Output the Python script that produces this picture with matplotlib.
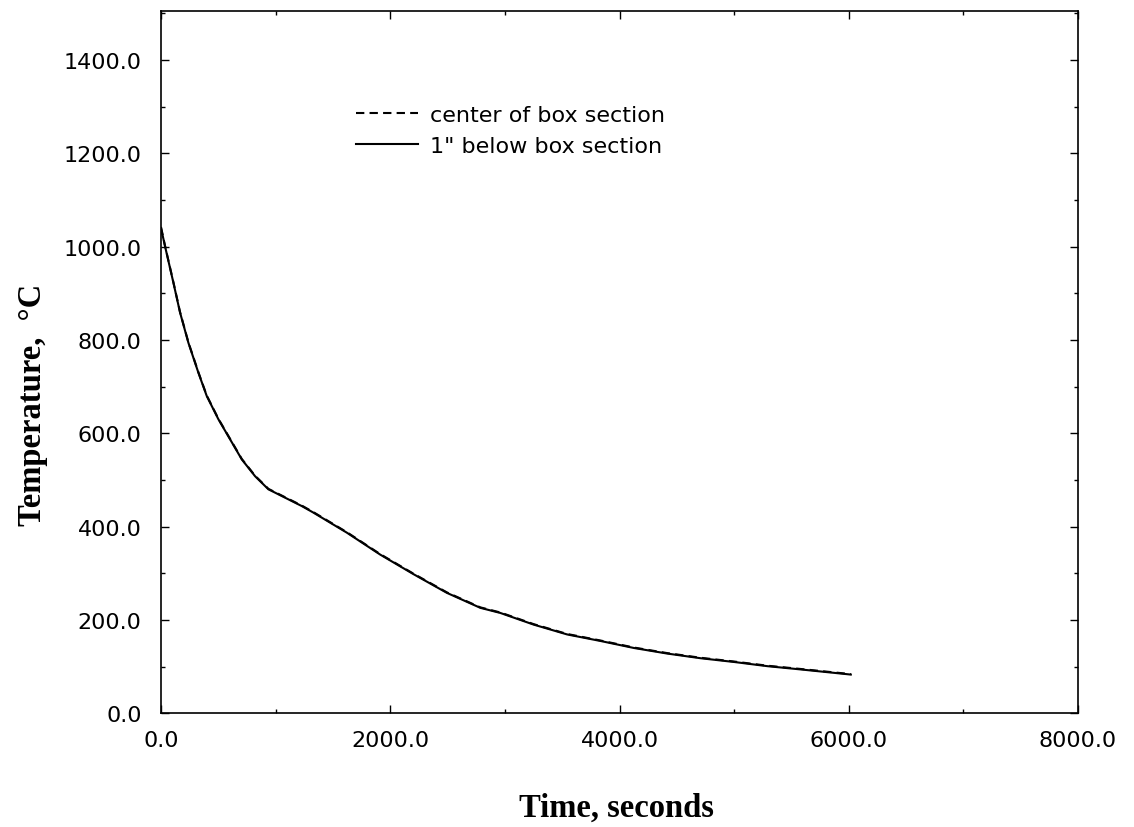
import matplotlib
matplotlib.use("Agg")
import matplotlib.pyplot as plt
from matplotlib.ticker import MultipleLocator, FormatStrFormatter

# Cooling history of the box section (time in s, temperature in deg C)
time_s = [0, 35, 108, 166, 239, 326, 399, 501, 603, 705, 821, 937, 1083,
          1229, 1330, 1622, 1913, 2204, 2495, 2786, 2961, 3252, 3543, 3834,
          4125, 4417, 4708, 4999, 5290, 5581, 6018]
center_box = [1042, 1002, 924, 860, 795, 731, 681, 631, 588, 545, 509, 481,
              463, 445, 431, 388, 341, 299, 259, 227, 216, 191, 170, 156,
              141, 129, 119, 111, 102, 95, 84]
below_box = [1040, 1001, 923, 859, 794, 730, 680, 630, 587, 544, 508, 480,
             462, 444, 430, 387, 340, 298, 258, 226, 215, 190, 169, 155,
             140, 128, 118, 110, 101, 94, 83]

series_labels = ["center of box section", "1\" below box section"]
x_label = "Time, seconds"
y_label = "Temperature,  \u00b0C"

plt.rcParams["font.family"] = ["DejaVu Sans"]

W, H = 1134, 828
fig = plt.figure(figsize=(W / 100, H / 100), dpi=100)
x0, x1, y0, y1 = 161, 1078, 714.3, 12
ax = fig.add_axes([x0 / W, 1 - y0 / H, (x1 - x0) / W, (y0 - y1) / H])

ax.plot(time_s, below_box, color="black", lw=1.5, ls="-", label=series_labels[1])
ax.plot(time_s, center_box, color="black", lw=1.5, ls=(0, (4, 2.5)), label=series_labels[0])

ax.set_xlim(0, 8000)
ax.set_ylim(0, 1505)
ax.xaxis.set_major_locator(MultipleLocator(2000))
ax.xaxis.set_minor_locator(MultipleLocator(1000))
ax.yaxis.set_major_locator(MultipleLocator(200))
ax.yaxis.set_minor_locator(MultipleLocator(100))
ax.xaxis.set_major_formatter(FormatStrFormatter("%.1f"))
ax.yaxis.set_major_formatter(FormatStrFormatter("%.1f"))

ax.tick_params(which="both", direction="in", top=True, right=True,
               labelsize=16, width=1.0, color="black")
ax.tick_params(which="major", length=6)
ax.tick_params(which="minor", length=3)
ax.tick_params(axis="y", which="major", pad=14)
ax.tick_params(axis="x", which="major", pad=12)
for sp in ax.spines.values():
    sp.set_linewidth(1.2)
    sp.set_color("black")

handles, labels = ax.get_legend_handles_labels()
ax.legend(handles[::-1], labels[::-1], loc="upper left",
          bbox_to_anchor=((356 - x0) / (x1 - x0), (y0 - 106) / (y0 - y1)),
          frameon=False, fontsize=16, handlelength=2.8, handletextpad=0.54,
          labelspacing=0.5, borderaxespad=0, borderpad=0)

fig.text(616 / W, 1 - 817 / H, x_label, ha="center", va="baseline",
         fontsize=23.5, fontweight="bold", family="Liberation Serif")
fig.text(41.5 / W, 1 - 405 / H, y_label, ha="center", va="baseline",
         rotation=90, rotation_mode="anchor", fontsize=23.5,
         fontweight="bold", family="Liberation Serif")

fig.savefig("out.png", dpi=100, facecolor="white")
